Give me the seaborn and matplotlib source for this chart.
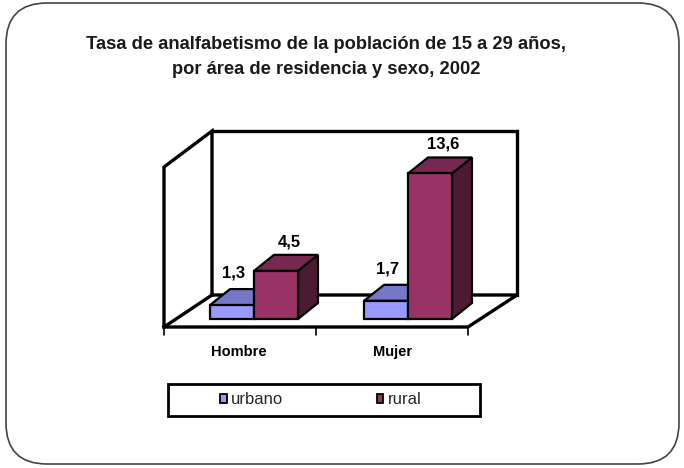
import numpy as np
import pandas as pd
import matplotlib
matplotlib.use("Agg")
import matplotlib.pyplot as plt
import matplotlib.transforms as mtransforms
from matplotlib.patches import Polygon, Rectangle, FancyBboxPatch, Patch
from matplotlib.lines import Line2D
import matplotlib.colors as mcolors
import seaborn as sns

# ---------------- data ----------------
categories = ["Hombre", "Mujer"]
areas = ["urbano", "rural"]
urbano = [1.3, 1.7]
rural = [4.5, 13.6]
title_text = "Tasa de analfabetismo de la población de 15 a 29 años,\npor área de residencia y sexo, 2002"

colors = {"urbano": "#9999FF", "rural": "#993366"}
label_offsets = {"urbano": (2, 32), "rural": (13, 29)}  # pixel offsets of value labels

df = pd.DataFrame({
    "sexo": categories * 2,
    "area": [areas[0]] * 2 + [areas[1]] * 2,
    "tasa": urbano + rural,
})

# ---------------- figure ----------------
W, H = 684, 468
sns.set_theme(style="white")
plt.rcParams["font.family"] = ["Liberation Sans", "DejaVu Sans"]

fig = plt.figure(figsize=(W / 100, H / 100), dpi=100)
fig.patch.set_facecolor("white")
ax = fig.add_axes([0, 0, 1, 1])

# pixel transform (origin at top-left of the figure)
pix = mtransforms.Affine2D().scale(1 / W, -1 / H).translate(0, 1) + fig.transFigure

sns.barplot(data=df, x="sexo", y="tasa", hue="area", order=categories,
            hue_order=areas, palette=colors, width=0.571, saturation=1,
            edgecolor="black", linewidth=1.6, ax=ax, legend=False)

# scale: category spacing 154 px, 10.7 px per unit, baseline at pixel row 319
kx, ky = 154.0, 10.7
x0px, y0px = 254.0, 319.0
ax.set_xlim(-x0px / kx, (W - x0px) / kx)
ax.set_ylim(-(H - y0px) / ky, y0px / ky)
ax.axis("off")

# ---------------- 3D frame (walls and floor) ----------------
frame_kw = dict(color="black", lw=2.4, transform=pix, zorder=1,
                solid_joinstyle="miter", solid_capstyle="projecting", clip_on=False)
frame_lines = [
    [(164, 327), (164, 167), (212, 131), (212, 295)],
    [(164, 327), (212, 295)],
    [(212, 131), (517, 131), (517, 295)],
    [(164, 327), (468, 327), (517, 295), (212, 295)],
]
for pts in frame_lines:
    xs, ys = zip(*pts)
    ax.add_line(Line2D(xs, ys, **frame_kw))
for tx in (164, 316, 468):
    ax.add_line(Line2D([tx, tx], [327, 335], color="black", lw=1.2,
                       transform=pix, zorder=1, clip_on=False))

# ---------------- 3D bars from seaborn patches ----------------
ddx, ddy = 20 / kx, 16 / ky
bars = [p for p in ax.patches if isinstance(p, Rectangle) and p.get_width() > 0]
area_of = {}
for p in bars:
    fc = mcolors.to_hex(p.get_facecolor())
    area_of[id(p)] = "urbano" if fc.lower() == colors["urbano"].lower() else "rural"
bars.sort(key=lambda p: p.get_x())
for rank, p in enumerate(bars):
    x0, w, h = p.get_x(), p.get_width(), p.get_height()
    fc = np.array(mcolors.to_rgb(p.get_facecolor()))
    z = 3 + rank
    p.set_zorder(z + 0.2)
    p.set_joinstyle("miter")
    top = Polygon([(x0, h), (x0 + w, h), (x0 + w + ddx, h + ddy), (x0 + ddx, h + ddy)],
                  closed=True, facecolor=fc * 0.78, edgecolor="black", lw=1.6,
                  joinstyle="miter", zorder=z + 0.1)
    side = Polygon([(x0 + w, 0), (x0 + w + ddx, ddy), (x0 + w + ddx, h + ddy), (x0 + w, h)],
                   closed=True, facecolor=fc * 0.5, edgecolor="black", lw=1.6,
                   joinstyle="miter", zorder=z + 0.1)
    ax.add_patch(side)
    ax.add_patch(top)
    label = f"{h:.1f}".replace(".", ",")
    ax.annotate(label, (x0 + w / 2, h), xytext=label_offsets[area_of[id(p)]],
                textcoords="offset pixels", ha="center", va="center",
                fontsize=12, fontweight="bold", color="black", zorder=20)

# ---------------- category labels ----------------
blend = mtransforms.blended_transform_factory(ax.transData, pix)
for i, c in enumerate(categories):
    ax.text(i - 0.1, 352, c, transform=blend, ha="center", va="center",
            fontsize=10.5, fontweight="bold", color="black")

# ---------------- title ----------------
fig.text(326 / W, 1 - 57 / H, title_text, ha="center", va="center",
         fontsize=13.2, fontweight="bold", color="#1a1a1a", linespacing=1.65)

# ---------------- legend ----------------
ax.add_patch(Rectangle((168, 384), 312, 32, transform=pix, fill=False,
                       edgecolor="black", lw=2, zorder=5, clip_on=False))
handles = [Patch(facecolor=colors[a], edgecolor="black", lw=1.3) for a in areas]
ax.legend(handles, areas, ncol=2, frameon=False, loc="center left",
          bbox_to_anchor=(212, 400), bbox_transform=pix, borderpad=0,
          handlelength=0.4, handleheight=0.5, handletextpad=0.25,
          columnspacing=5.6, prop={"size": 12, "family": "Liberation Sans"})

# ---------------- outer rounded border ----------------
fig.patches.append(FancyBboxPatch((6 / W, 4 / H), 673 / W, 461 / H,
                                  boxstyle="round,pad=0,rounding_size=0.06",
                                  transform=fig.transFigure, fill=False,
                                  edgecolor="#444444", lw=1.2, mutation_aspect=W / H))

fig.savefig("out.png", dpi=100, facecolor="white")
